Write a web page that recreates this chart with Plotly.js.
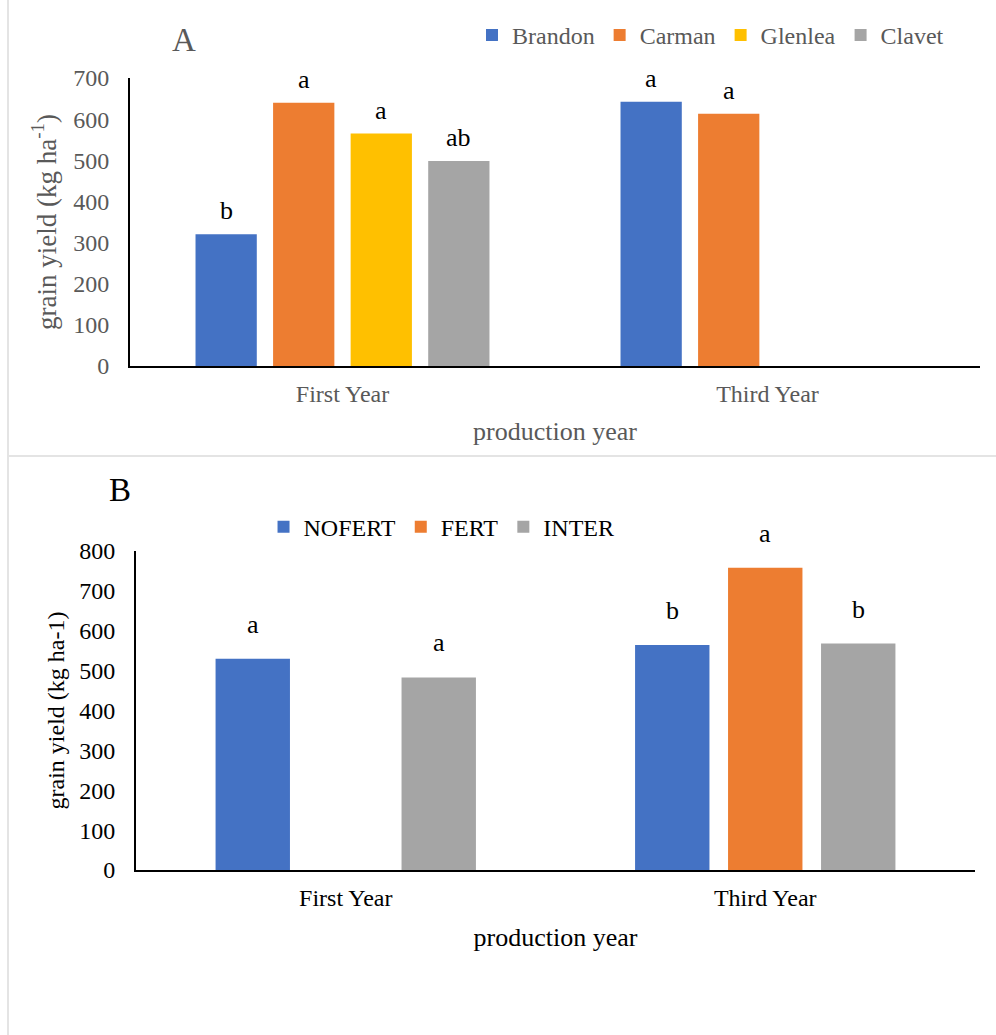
<!DOCTYPE html>
<html>
<head>
<meta charset="utf-8">
<script src="https://cdn.plot.ly/plotly-3.0.1.min.js"></script>
<style>
  html, body { margin: 0; padding: 0; background: #fff; }
  #wrap { position: relative; width: 996px; height: 1035px; overflow: hidden; }
  #chartA { position: absolute; left: 0; top: 0; width: 996px; height: 455px; }
  #chartB { position: absolute; left: 0; top: 455px; width: 996px; height: 580px; }
  #vline { position: absolute; left: 7px; top: 0; width: 2px; height: 1035px; background: #e4e4e4; }
  #hline { position: absolute; left: 7px; top: 455px; width: 989px; height: 2px; background: #e4e4e4; }
</style>
</head>
<body>
<div id="wrap">
  <div id="chartA"></div>
  <div id="chartB"></div>
  <div id="vline"></div>
  <div id="hline"></div>
</div>
<script>
// ---------- Panel A data ----------
const yearsA = ["First Year", "Third Year"];
const sitesA = ["Brandon", "Carman", "Glenlea", "Clavet"];
const brandon = [320, 642];
const carman = [640, 613];
const glenlea = [565, null];
const clavet = [498, null];
const lettersBrandon = ["b", "a"];
const lettersCarman = ["a", "a"];
const lettersGlenlea = ["a", ""];
const lettersClavet = ["ab", ""];

// ---------- Panel B data ----------
const yearsB = ["First Year", "Third Year"];
const treatB = ["NOFERT", "FERT", "INTER"];
const nofert = [530, 564];
const fert = [null, 758];
const inter = [483, 568];
const lettersNofert = ["a", "b"];
const lettersFert = ["", "a"];
const lettersInter = ["a", "b"];

const colors4 = ["#4472C4", "#ED7D31", "#FFC000", "#A5A5A5"];
const colors3 = ["#4472C4", "#ED7D31", "#A5A5A5"];
const FONT = "Liberation Serif, Times New Roman, serif";

function letterAnnotations(seriesVals, seriesLetters, bargap, color, size, yshift) {
  const n = seriesVals.length;
  const slot = (1 - bargap) / n;
  const anns = [];
  seriesVals.forEach((vals, i) => {
    vals.forEach((v, j) => {
      const t = seriesLetters[i][j];
      if (v === null || !t) return;
      anns.push({
        x: j + (i - (n - 1) / 2) * slot,
        y: v,
        xref: "x", yref: "y",
        text: t,
        showarrow: false,
        yanchor: "bottom",
        yshift: yshift,
        font: { family: FONT, size: size, color: color }
      });
    });
  });
  return anns;
}

// ---------- Panel A ----------
const gapA = 0.27;
const valsA = [brandon, carman, glenlea, clavet];
const lettersA = [lettersBrandon, lettersCarman, lettersGlenlea, lettersClavet];
const tracesA = sitesA.map((name, i) => ({
  type: "bar",
  name: name,
  x: [0, 1],
  y: valsA[i],
  marker: { color: colors4[i] },
  hoverinfo: "skip"
}));
const grayA = "#595959";
const layoutA = {
  width: 996, height: 455,
  margin: { l: 130, r: 16, t: 78, b: 89, autoexpand: false },
  paper_bgcolor: "#fff", plot_bgcolor: "#fff",
  barmode: "group", bargap: gapA, bargroupgap: 0.21,
  font: { family: FONT, color: grayA, size: 24 },
  showlegend: true,
  legend: {
    orientation: "h", x: 0.9635, xanchor: "right", y: 1.148, yanchor: "middle",
    font: { family: FONT, size: 24, color: grayA },
    itemwidth: 30, traceorder: "normal"
  },
  xaxis: {
    type: "linear", range: [-0.5, 1.5],
    tickmode: "array", tickvals: [0, 1], ticktext: yearsA,
    showline: true, linecolor: "#000", linewidth: 2,
    showgrid: false, zeroline: false, ticks: "",
    ticklabelstandoff: 5,
    tickfont: { family: FONT, size: 24, color: grayA },
    title: { text: "production year", font: { family: FONT, size: 26, color: grayA }, standoff: 16 }
  },
  yaxis: {
    range: [0, 700], dtick: 100,
    showline: true, linecolor: "#000", linewidth: 2,
    showgrid: false, zeroline: false, ticks: "",
    ticklabelstandoff: 14,
    tickfont: { family: FONT, size: 24, color: grayA },
    title: { text: "grain yield (kg ha<sup>-1</sup>)", font: { family: FONT, size: 27, color: grayA }, standoff: 9 }
  },
  annotations: [
    { xref: "paper", yref: "paper", x: 0.047, y: 1.132, xanchor: "left", yanchor: "middle",
      text: "A", showarrow: false, font: { family: FONT, size: 33, color: grayA } }
  ].concat(letterAnnotations(valsA, lettersA, gapA, "#000", 26, 7))
};
Plotly.newPlot("chartA", tracesA, layoutA, { displayModeBar: false, staticPlot: true });

// ---------- Panel B ----------
const gapB = 0.335;
const valsB = [nofert, fert, inter];
const lettersBArr = [lettersNofert, lettersFert, lettersInter];
const tracesB = treatB.map((name, i) => ({
  type: "bar",
  name: name,
  x: [0, 1],
  y: valsB[i],
  marker: { color: colors3[i] },
  hoverinfo: "skip"
}));
const layoutB = {
  width: 996, height: 580,
  margin: { l: 136, r: 21, t: 96, b: 165, autoexpand: false },
  paper_bgcolor: "#fff", plot_bgcolor: "#fff",
  barmode: "group", bargap: gapB, bargroupgap: 0.2,
  font: { family: FONT, color: "#000", size: 24 },
  showlegend: true,
  legend: {
    orientation: "h", x: 0.152, xanchor: "left", y: 1.075, yanchor: "middle",
    font: { family: FONT, size: 24, color: "#000" },
    itemwidth: 30, traceorder: "normal"
  },
  xaxis: {
    type: "linear", range: [-0.5, 1.5],
    tickmode: "array", tickvals: [0, 1], ticktext: yearsB,
    showline: true, linecolor: "#000", linewidth: 2,
    showgrid: false, zeroline: false, ticks: "",
    ticklabelstandoff: 5,
    tickfont: { family: FONT, size: 24, color: "#000" },
    title: { text: "production year", font: { family: FONT, size: 26, color: "#000" }, standoff: 18 }
  },
  yaxis: {
    range: [0, 800], dtick: 100,
    showline: true, linecolor: "#000", linewidth: 2,
    showgrid: false, zeroline: false, ticks: "",
    ticklabelstandoff: 14,
    tickfont: { family: FONT, size: 24, color: "#000" },
    title: { text: "grain yield (kg ha-1)", font: { family: FONT, size: 24, color: "#000" }, standoff: 8 }
  },
  annotations: [
    { xref: "paper", yref: "paper", x: -0.034, y: 1.19, xanchor: "left", yanchor: "middle",
      text: "B", showarrow: false, font: { family: FONT, size: 33, color: "#000" } }
  ].concat(letterAnnotations(valsB, lettersBArr, gapB, "#000", 26, 18))
};
Plotly.newPlot("chartB", tracesB, layoutB, { displayModeBar: false, staticPlot: true });
</script>
</body>
</html>
